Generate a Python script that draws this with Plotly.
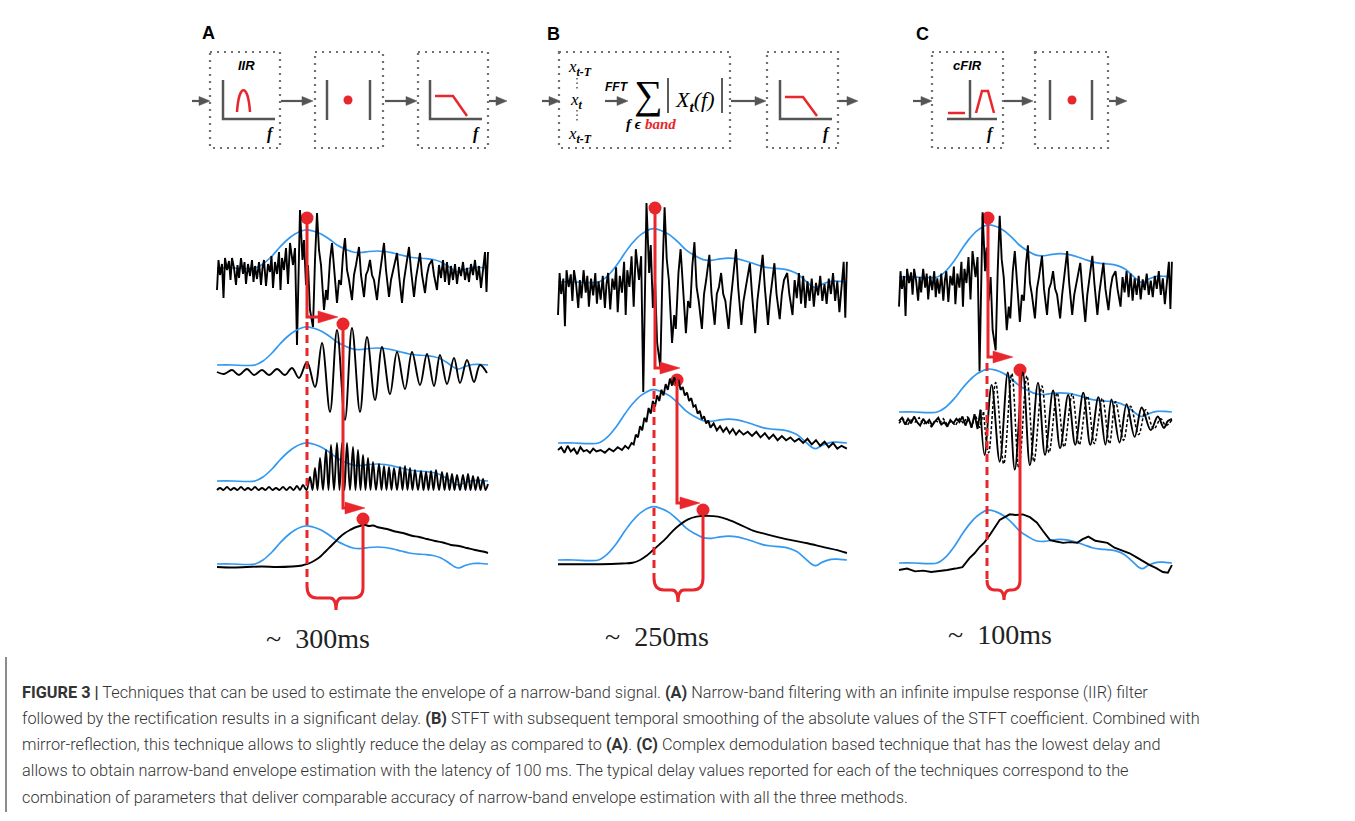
import plotly.graph_objects as go

W, H = 1355, 821
RED = "#e8262b"
BLUE = "#3398f0"
GRAY = "#555555"
DOTC = "#707070"

# ---------------- data (time in samples, amplitude in arbitrary units) ----------------
RAW_T = [0, 1.5, 3, 5, 6.5, 8, 10, 12, 13.5, 15, 17, 19, 20.5, 22, 24, 26, 27.5, 29, 31, 33,
         35, 36.5, 38, 40, 42, 44, 45.5, 47, 49, 51, 53, 54.5, 56, 58, 60, 62, 63.5, 65, 67, 69, 71,
         73, 76, 78, 80, 83, 85.5, 87, 89, 91, 93, 96, 98, 100, 102, 104, 107, 109, 110.5,
         113, 115, 117, 120, 122, 124, 126, 128, 130, 132, 135, 137, 139, 142, 144, 147, 149, 151, 153, 155,
         157, 160, 162, 164, 167, 169, 172, 174, 176, 178, 180, 182, 185, 187, 189, 192, 194, 197, 199, 201,
         203, 205, 208, 210, 212, 215, 217, 220, 222, 224, 226, 228, 230, 232, 234, 236, 238, 240, 242, 244,
         246, 248, 250, 252, 254, 256, 258, 260, 262, 264, 266, 268, 269.5, 271]
RAW_A = [-20, 10, -5, 6, -28, 12, 0, 9, -10, 12, 2, -15, 5, -8, 12, -4, 8, -14, 6, -6,
         10, -12, 4, -9, 8, -15, 2, 10, -16, 6, -2, 14, -18, 8, -4, 18, -20, 12, 0, 22, -14,
         27, 5, 22, -75, 60, 10, 30, -15, 5, -40, -57, 10, 57, 20, 5, -40, -20, -30,
         10, 27, 5, -33, -10, -15, 15, 32, 0, -10, -30, -5, 5, 23, -5, -27, -5, 0, 10, -5,
         -10, -30, -10, 5, 27, 0, -27, -10, 0, 8, 17, -5, -33, -10, 5, 23, 0, -27, -8, 5,
         17, -5, -23, -5, 5, 10, -5, -20, 5, -8, 10, -12, 8, -15, 4, -10, 6, -14, 3, -6,
         8, -10, 2, -12, 6, -5, 10, -10, 4, -18, 2, 18, -22, 18]

ENV_T = [0, 15, 30, 38, 46, 55, 63, 70, 78, 88, 96, 104, 112, 120, 128, 136, 144, 152, 160, 168,
         176, 184, 192, 200, 208, 216, 224, 232, 238, 242, 248, 256, 264, 271]
ENV_A = [0, 0, -0.5, 0, 4, 12, 21, 28, 34, 38, 37, 34, 29, 23, 19, 16, 15.5, 16.5, 17, 16.5,
         15, 13, 11, 10, 9.5, 8.5, 6, 1, -3, -4, -1.5, 0.5, 0.5, 0]

FILT_T = [0, 7, 15, 22, 30, 37, 45, 52, 60, 68, 75, 82, 90, 98, 105, 113, 120, 128, 135, 143,
          150, 158, 165, 173, 180, 188, 195, 203, 210, 217, 223, 230, 237, 243, 250, 257, 263, 270]
FILT_A = [0, -2, 2, -3, 3, -3, 2, -3, 3, -3, 4, -6, 10, -15, 29, -40, 42, -48, 44, -40,
          35, -28, 25, -22, 20, -17, 20, -13, 18, -14, 17, -12, 14, -11, 12, -10, 7, -1]

RECT_T = [0, 3, 6.5, 10, 13.5, 17, 20.5, 24, 27.5, 31, 34.5, 38, 41.5, 45, 48.5, 52, 55.5, 59, 62.5, 66,
          69.5, 73, 76.5, 80, 83, 86, 89.5, 93, 95.5, 98, 100.5, 103, 106, 109, 111.5, 114, 117, 120, 122.5, 125,
          127.5, 130, 133, 136, 138.5, 141, 143.5, 146, 148.5, 151, 153.5, 156, 159, 162, 164.5, 167, 169.5, 172,
          174.5, 177, 180, 183, 185.5, 188, 190.5, 193, 195.5, 198, 201, 204, 206.5, 209, 211.5, 214, 216.5, 219,
          222, 225, 227.5, 230, 232.5, 235, 237.5, 240, 243, 246, 248.5, 251, 253.5, 256, 258.5, 261, 263.5, 266,
          268.5, 271]
RECT_A = [0, 2, 0, 3, 0, 2, 0, 3, 0, 2, 0, 3, 0, 2, 0, 3, 0, 2, 0, 3,
          0, 3, 0, 4, 0, 5, 0, 13, 0, 22, 0, 32, 0, 40, 0, 45, 0, 47, 0, 47,
          0, 47, 0, 43, 0, 40, 0, 35, 0, 32, 0, 28, 0, 26, 0, 24, 0, 23,
          0, 22, 0, 23, 0, 24, 0, 22, 0, 20, 0, 19, 0, 18, 0, 19, 0, 20,
          0, 18, 0, 17, 0, 16, 0, 15, 0, 15, 0, 16, 0, 14, 0, 13, 0, 11,
          0, 6]

SMA_T = [0, 15, 30, 45, 60, 75, 85, 90, 95, 100, 104, 108, 113, 118, 123, 128, 133, 138, 143, 148,
         152, 156, 162, 170, 178, 186, 194, 202, 210, 218, 226, 234, 242, 250, 258, 266, 271]
SMA_A = [0, -0.5, 0, 0.5, 0, 0.5, 1.5, 3, 5, 8, 11, 15, 20, 25, 30, 34, 37, 39.5, 41, 42,
         41, 41.5, 39.5, 38, 35.5, 34, 31.5, 30, 28, 26, 24.5, 22, 21, 19, 17, 15.5, 14]

STFT_T = [0, 3, 6, 9, 12, 15, 18, 21, 24, 27, 30, 33, 36, 40, 44, 48, 52, 56, 60, 63,
          66, 69, 71, 73, 75, 77, 79, 81, 83, 85, 87, 89, 91, 93, 95, 97, 99, 101, 103, 105,
          107, 109, 111, 113, 115, 117, 119, 121, 123, 125, 127, 129, 131, 133, 135, 137, 139, 141, 143, 146,
          149, 152, 155, 158, 161, 164, 167, 170, 174, 178, 182, 186, 190, 194, 198, 202, 206, 210, 214, 218,
          222, 226, 230, 234, 238, 242, 246, 250, 254, 258, 262, 266, 271]
STFT_A = [-5, -3, -7, -2, -6, -4, -8, -3, -6, -5, -7, -4, -6, -5, -7, -4, -6, -3, -5, -2,
          -4, 0, -1, 6, 4, 12, 9, 18, 15, 25, 21, 30, 26, 34, 30, 38, 34, 42, 38, 46,
          41, 47, 42, 45, 38, 40, 34, 36, 30, 32, 26, 27, 21, 23, 17, 19, 14, 16, 11, 14,
          9, 12, 8, 11, 7, 10, 6, 9, 6, 8, 5, 8, 4, 7, 3, 6, 2, 5, 2, 4,
          1, 3, 0, 3, -1, 2, -2, 1, -3, 0, -4, -2, -4]

SMB_T = [0, 20, 40, 60, 70, 77, 83, 89, 95, 102, 108, 114, 122, 130, 140, 150, 159, 170, 183, 195,
         208, 220, 234, 250, 262, 271]
SMB_A = [-3, -3, -3, -2.5, -2, 0, 3, 7, 11, 16, 21, 25, 29, 31, 31.5, 31, 29, 25.5, 21, 18.5,
         16, 14, 12, 9, 7, 5]

CRE_NT = [0, 3, 6, 9, 12, 15, 18, 21, 24, 27, 30, 33, 36, 39, 42, 45, 48, 51, 54, 57,
          60, 63, 66, 69, 72, 75, 78, 81]
CRE_NA = [-8, -5, -11, -6, -10, -4, -9, -12, -6, -10, -7, -12, -8, -5, -11, -9, -13, -7, -10, -6,
          -9, -4, -12, -5, -14, -2, -15, 2]
CRE_T = [81, 85, 92, 100, 108, 115, 123, 130, 138, 145, 153, 160, 168, 175, 183, 190, 198, 205, 211, 219,
         226, 234, 241, 250, 257, 263, 267, 271]
CRE_A = [2, -38, 24, -44, 35, -51, 35, -47, 26, -38, 19, -32, 15, -29, 17, -29, 13, -29, 11, -27,
         7, -22, 4, -16, -4, -14, -8, -6]
CIM_NT = [0, 4, 8, 12, 16, 20, 24, 28, 32, 36, 40, 44, 48, 52, 56, 60, 64, 68, 72, 76, 80, 84]
CIM_NA = [-10, -6, -12, -7, -9, -5, -11, -8, -13, -7, -10, -6, -11, -8, -12, -6, -10, -4, -13, -3, -14, 0]
CIM_T = [84, 89, 96, 104, 112, 119, 127, 134, 142, 149, 157, 164, 172, 179, 187, 194, 202, 209, 215, 223,
         230, 238, 245, 253, 260, 265, 271]
CIM_A = [0, -36, 26, -46, 34, -50, 32, -44, 23, -36, 17, -31, 16, -29, 14, -28, 12, -28, 9, -25,
         5, -20, 2, -15, -6, -12, -7]

SMC_T = [0, 8, 16, 24, 32, 40, 48, 56, 63, 70, 75, 80, 85, 90, 95, 100, 105, 110, 116, 123,
         130, 137, 143, 150, 156, 163, 170, 177, 182, 188, 195, 201, 207, 214, 221, 229, 236, 243, 249, 255,
         262, 267, 271]
SMC_A = [-5, -4, -6, -5.5, -6.5, -6, -5, -4, -3, 3.5, 7, 11.5, 15, 20, 26, 31, 33, 35, 34.5, 35,
         33, 29, 23, 16.5, 15.5, 14.5, 15, 14.5, 17, 19, 16, 15, 14.5, 11, 9, 7, 4, 1, -1.5, -3.5,
         -6.5, -7, -1.5]

PANEL_LABELS = ["A", "B", "C"]
DELAY_LABELS = ["~ 300ms", "~ 250ms", "~ 100ms"]
CAPTION = [
    "<b>FIGURE 3 |</b> Techniques that can be used to estimate the envelope of a narrow-band signal. <b>(A)</b> Narrow-band filtering with an infinite impulse response (IIR) filter",
    "followed by the rectification results in a significant delay. <b>(B)</b> STFT with subsequent temporal smoothing of the absolute values of the STFT coefficient. Combined with",
    "mirror-reflection, this technique allows to slightly reduce the delay as compared to <b>(A)</b>. <b>(C)</b> Complex demodulation based technique that has the lowest delay and",
    "allows to obtain narrow-band envelope estimation with the latency of 100 ms. The typical delay values reported for each of the techniques correspond to the",
    "combination of parameters that deliver comparable accuracy of narrow-band envelope estimation with all the three methods.",
]

# ---------------- layout of the signal rows ----------------
COLS = {"A": (217, 1.0), "B": (558, 1.066), "C": (899, 1.007)}
SERIES = [
    # column, t, a, baseline px, px per unit, color, width, shape, dash
    ("A", ENV_T, ENV_A, 268, 1.0, BLUE, 1.7, "spline", None),
    ("A", RAW_T, RAW_A, 270, 1.0, "black", 1.9, "linear", None),
    ("A", ENV_T, ENV_A, 365, 1.0, BLUE, 1.7, "spline", None),
    ("A", FILT_T, FILT_A, 372, 1.0, "black", 1.9, "spline", None),
    ("A", ENV_T, ENV_A, 481, 1.0, BLUE, 1.7, "spline", None),
    ("A", RECT_T, RECT_A, 490, 1.0, "black", 1.9, "spline", None),
    ("A", ENV_T, ENV_A, 564, 1.0, BLUE, 1.7, "spline", None),
    ("A", SMA_T, SMA_A, 567, 1.0, "black", 1.9, "spline", None),
    ("B", ENV_T, ENV_A, 282, 1.4, BLUE, 1.7, "spline", None),
    ("B", RAW_T, RAW_A, 287, 1.4, "black", 1.9, "linear", None),
    ("B", ENV_T, ENV_A, 443, 1.4, BLUE, 1.7, "spline", None),
    ("B", STFT_T, STFT_A, 443, 1.4, "black", 1.9, "linear", None),
    ("B", ENV_T, ENV_A, 560, 1.4, BLUE, 1.7, "spline", None),
    ("B", SMB_T, SMB_A, 560, 1.4, "black", 1.9, "spline", None),
    ("C", ENV_T, ENV_A, 277, 1.37, BLUE, 1.7, "spline", None),
    ("C", RAW_T, RAW_A, 283, 1.18, "black", 1.9, "linear", None),
    ("C", ENV_T, ENV_A, 412, 1.13, BLUE, 1.7, "spline", None),
    ("C", CIM_NT, CIM_NA, 412, 1.13, "black", 1.5, "linear", "3px,2px"),
    ("C", CIM_T, CIM_A, 412, 1.13, "black", 1.5, "spline", "3px,2px"),
    ("C", CRE_NT, CRE_NA, 412, 1.13, "black", 1.9, "linear", None),
    ("C", CRE_T, CRE_A, 412, 1.13, "black", 1.9, "spline", None),
    ("C", ENV_T, ENV_A, 563, 1.39, BLUE, 1.7, "spline", None),
    ("C", SMC_T, SMC_A, 563, 1.39, "black", 1.9, "linear", None),
]

fig = go.Figure()
axes_layout = {}
xmap, ymap = {}, {}


def get_x(col):
    if col not in xmap:
        i = len(xmap) + 2
        x0, ppx = COLS[col]
        axes_layout[f"xaxis{i}"] = dict(range=[-x0 / ppx, (W - x0) / ppx], overlaying="x",
                                        visible=False, fixedrange=True)
        xmap[col] = f"x{i}"
    return xmap[col]


def get_y(base, ppu):
    key = (base, ppu)
    if key not in ymap:
        i = len(ymap) + 2
        axes_layout[f"yaxis{i}"] = dict(range=[-(H - base) / ppu, base / ppu], overlaying="y",
                                        visible=False, fixedrange=True)
        ymap[key] = f"y{i}"
    return ymap[key]


for col, t, a, base, ppu, color, width, shape, dash in SERIES:
    ln = dict(color=color, width=width, shape=shape)
    if shape == "spline":
        ln["smoothing"] = 1.0
    if dash:
        ln["dash"] = dash
    fig.add_trace(go.Scatter(x=t, y=a, xaxis=get_x(col), yaxis=get_y(base, ppu), mode="lines",
                             line=ln, hoverinfo="skip"))

# ---------------- diagram elements (pixel space) ----------------
shapes = []
annotations = []


def path(d, color, width, dash=None, fill=None, layer="above"):
    s = dict(type="path", path=d, xref="x", yref="y", layer=layer,
             line=dict(color=color, width=width))
    if dash:
        s["line"]["dash"] = dash
    if fill:
        s["fillcolor"] = fill
    shapes.append(s)


def box(x0, y0, x1, y1):
    shapes.append(dict(type="rect", x0=x0, y0=y0, x1=x1, y1=y1, xref="x", yref="y",
                       line=dict(color=DOTC, width=2.2, dash="2px,5px"), layer="above"))


def garrow(x0, x1, y):
    path(f"M{x0},{y} L{x1-8},{y}", GRAY, 2.2)
    path(f"M{x1-11},{y-4.5} L{x1},{y} L{x1-11},{y+4.5} Z", GRAY, 0.5, fill=GRAY)


def txt(x, y, s, size, family="Arial", color="#000", xanchor="center", yanchor="middle", weight=None):
    f = dict(size=size, family=family, color=color)
    if weight:
        f["weight"] = weight
    annotations.append(dict(x=x, y=y, xref="x", yref="y", text=s, showarrow=False,
                            font=f, xanchor=xanchor, yanchor=yanchor))


# --- panel A diagram
box(210, 52, 280, 148)
box(315, 52, 383, 148)
box(418, 52, 488, 148)
garrow(192, 210, 101)
garrow(281, 313, 101)
garrow(385, 417, 101)
garrow(489, 507, 101)
path("M223,80 L223,119 L275,119", GRAY, 2.5)
path("M237,112 C239,83 248,83 250,112", RED, 2.5)
path("M327,80 L327,120", GRAY, 2.5)
path("M370,80 L370,120", GRAY, 2.5)
shapes.append(dict(type="circle", x0=343.5, y0=95.5, x1=352.5, y1=104.5, xref="x", yref="y",
                   fillcolor=RED, line=dict(color=RED, width=0), layer="above"))
path("M430,80 L430,119 L482,119", GRAY, 2.5)
path("M435,96 L453,96 L467,116", RED, 2.5)
txt(246, 65, "<b><i>IIR</i></b>", 13)
txt(270, 134, "<b><i>f</i></b>", 16, family="Liberation Serif")
txt(476, 134, "<b><i>f</i></b>", 16, family="Liberation Serif")

# --- panel B diagram
box(559, 52, 730, 148)
box(767, 52, 838, 148)
garrow(542, 560, 101)
garrow(731, 766, 101)
garrow(839, 858, 101)
garrow(605, 628, 101)
path("M577,78 L577,90", DOTC, 1.8, dash="1.5px,3px")
path("M577,110 L577,122", DOTC, 1.8, dash="1.5px,3px")
txt(580, 68, "<i>x</i><sub><b><i>t-T</i></b></sub>", 17, family="Liberation Serif")
txt(576, 101, "<i>x</i><sub><b><i>t</i></b></sub>", 17, family="Liberation Serif")
txt(580, 135, "<i>x</i><sub><b><i>t-T</i></b></sub>", 17, family="Liberation Serif")
txt(617, 87, "<b><i>FFT</i></b>", 12)
txt(648, 94, "∑", 40, family="Liberation Serif")
path("M668,78 L668,113", "#333", 1.6)
path("M722,78 L722,113", "#333", 1.6)
txt(695, 101, "<i>X</i><sub><b><i>t</i></b></sub><i>(f)</i>", 22, family="Liberation Serif")
txt(651, 124, f"<b><i>f ϵ </i></b><b><i><span style='color:{RED}'>band</span></i></b>", 15,
    family="Liberation Serif")
path("M780,80 L780,119 L832,119", GRAY, 2.5)
path("M785,97 L803,97 L817,116", RED, 2.5)
txt(826, 134, "<b><i>f</i></b>", 16, family="Liberation Serif")

# --- panel C diagram
box(932, 52, 1003, 148)
box(1035, 52, 1108, 148)
garrow(913, 932, 101)
garrow(1004, 1033, 101)
garrow(1109, 1127, 101)
path("M970,80 L970,119", GRAY, 2.5)
path("M947,119 L997,119", GRAY, 2.5)
path("M948,113 L965,113", RED, 2.5)
path("M976,113 L982,91 L988,91 L994,113", RED, 2.5)
path("M1050,80 L1050,120", GRAY, 2.5)
path("M1092,80 L1092,120", GRAY, 2.5)
shapes.append(dict(type="circle", x0=1067.5, y0=95.5, x1=1076.5, y1=104.5, xref="x", yref="y",
                   fillcolor=RED, line=dict(color=RED, width=0), layer="above"))
txt(967, 65, "<b><i>cFIR</i></b>", 13)
txt(990, 134, "<b><i>f</i></b>", 16, family="Liberation Serif")

for lab, (x, y) in zip(PANEL_LABELS, [(208, 33), (553, 34), (922, 34)]):
    txt(x, y, f"<b>{lab}</b>", 18)

# --- red delay markers
RW = 3
# A
path("M307,218 L307,317 L322,317", RED, RW)
path("M318,311 L338,317 L318,323 Z", RED, 0.5, fill=RED)
path("M343,324 L343,508 L348,508", RED, RW)
path("M345,502 L365,508 L345,514 Z", RED, 0.5, fill=RED)
path("M307,322 L307,586", RED, RW, dash="8px,5px")
path("M307,586 Q307,598 317,598 L330,598 Q336,598 336,610 Q336,598 342,598 L353,598 Q363,598 363,588 L363,519",
     RED, RW)
# B
path("M655,208 L655,368 L662,368", RED, RW)
path("M660,362 L680,368 L660,374 Z", RED, 0.5, fill=RED)
path("M677,380 L677,503 L682,503", RED, RW)
path("M680,497 L700,503 L680,509 Z", RED, 0.5, fill=RED)
path("M654,378 L654,578", RED, RW, dash="8px,5px")
path("M654,578 Q654,590 664,590 L672,590 Q678,590 678,602 Q678,590 684,590 L693,590 Q703,590 703,578 L703,510",
     RED, RW)
# C
path("M988,218 L988,357 L995,357", RED, RW)
path("M993,351 L1013,357 L993,363 Z", RED, 0.5, fill=RED)
path("M987,363 L987,580", RED, RW, dash="8px,5px")
path("M987,580 Q987,590 995,590 L998,590 Q1004,590 1004,600 Q1004,590 1010,590 L1012,590 Q1020,590 1020,580 L1020,370",
     RED, RW)

fig.add_trace(go.Scatter(x=[307, 343, 363, 655, 677, 703, 988, 1020],
                         y=[218, 324, 519, 208, 380, 510, 218, 370],
                         mode="markers", marker=dict(color=RED, size=13), hoverinfo="skip",
                         xaxis="x", yaxis="y"))

for lab, (x, y) in zip(DELAY_LABELS, [(318, 638), (657, 636), (1000, 634)]):
    txt(x, y, lab.replace(" ", "\u2002"), 28, family="Liberation Serif", color="#222")

# --- caption
for i, line in enumerate(CAPTION):
    txt(20, 692 + i * 26.3, line, 16.3, family="Roboto", color="#333", xanchor="left", weight=300)
path("M6,657 L6,812", "#666", 1.5)

fig.update_layout(
    width=W, height=H, margin=dict(l=0, r=0, t=0, b=0),
    paper_bgcolor="white", plot_bgcolor="white", showlegend=False,
    xaxis=dict(range=[0, W], domain=[0, 1], visible=False, fixedrange=True),
    yaxis=dict(range=[H, 0], domain=[0, 1], visible=False, fixedrange=True),
    shapes=shapes, annotations=annotations, **axes_layout,
)

fig.write_html("out.html", config={"displayModeBar": False},
               post_script="document.body.style.margin='0';")
